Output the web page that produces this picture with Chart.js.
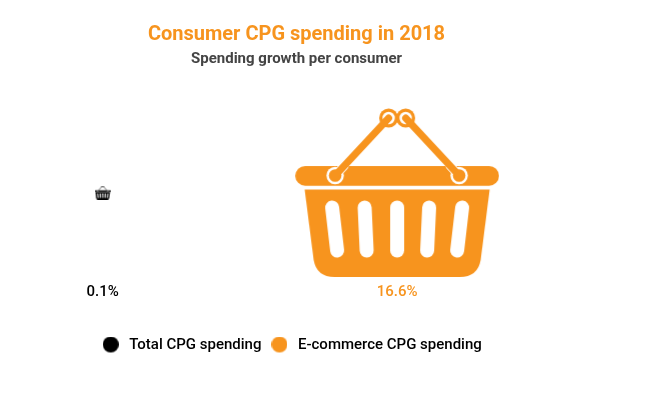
<!DOCTYPE html>
<html>
<head>
<meta charset="utf-8">
<title>Consumer CPG spending in 2018</title>
<script src="https://cdn.jsdelivr.net/npm/chart.js@4/dist/chart.umd.min.js"></script>
<style>
    html, body { margin: 0; padding: 0; background: #fff; }
    canvas { display: block; }
</style>
</head>
<body>
<canvas id="grafico" width="654" height="394"></canvas>
<script>

const categorias = ['Total CPG spending', 'E-commerce CPG spending'];
const valores = [0.1, 16.6];
const etiquetas = ['0.1%', '16.6%'];
const colores = ['#000000', '#f7941e'];

const titulo = 'Consumer CPG spending in 2018';
const subtitulo = 'Spending growth per consumer';

// the icon area follows the value, 50px of width per sqrt(value)
const anchoPorRaiz = 50;
const anchoBase = 204;
const altoBase = 169;

function crearCesta(valor, color) {
    let escala = anchoPorRaiz * Math.sqrt(valor) / anchoBase;
    let lienzo = document.createElement('canvas');
    lienzo.width = Math.ceil(anchoBase * escala);
    lienzo.height = Math.ceil(altoBase * escala);

    let ctx = lienzo.getContext('2d');
    ctx.scale(lienzo.width / anchoBase, lienzo.height / altoBase);
    ctx.translate(-15.5, -8);
    ctx.lineCap = 'round';

    // body
    ctx.fillStyle = color;
    ctx.beginPath();
    ctx.moveTo(25, 89.5);
    ctx.lineTo(210, 89.5);
    ctx.lineTo(201, 160);
    ctx.quadraticCurveTo(198, 177, 180, 177);
    ctx.lineTo(55, 177);
    ctx.quadraticCurveTo(37, 177, 34, 160);
    ctx.closePath();
    ctx.fill();

    // slots
    ctx.strokeStyle = '#fff';
    ctx.lineWidth = 14;
    [[52.5, 57.5], [85, 87], [117.5, 117.5], [149.5, 147.5], [182.5, 177.5]].forEach(function (r) {
        ctx.beginPath();
        ctx.moveTo(r[0], 107.5);
        ctx.lineTo(r[1], 150.5);
        ctx.stroke();
    });

    // rim
    ctx.fillStyle = color;
    ctx.beginPath();
    ctx.roundRect(15.7, 66, 203.6, 19.7, 9.8);
    ctx.fill();

    // handles with their rings
    [[55.5, 75.5, 109, 18], [179.5, 75.5, 126, 18]].forEach(function (h) {
        ctx.fillStyle = '#fff';
        ctx.beginPath();
        ctx.arc(h[0], h[1], 8.7, 0, Math.PI * 2);
        ctx.fill();

        // thin white edge where the handle crosses the rim
        ctx.strokeStyle = '#fff';
        ctx.lineWidth = 9;
        ctx.beginPath();
        ctx.moveTo(h[0], h[1]);
        ctx.lineTo(h[0] + (h[2] - h[0]) * 0.17, h[1] + (h[3] - h[1]) * 0.17);
        ctx.stroke();

        ctx.fillStyle = color;
        ctx.beginPath();
        ctx.arc(h[0], h[1], 6.3, 0, Math.PI * 2);
        ctx.fill();

        ctx.fillStyle = color;
        ctx.beginPath();
        ctx.arc(h[2], h[3], 9.5, 0, Math.PI * 2);
        ctx.fill();
        ctx.fillStyle = '#fff';
        ctx.beginPath();
        ctx.arc(h[2], h[3], 6.2, 0, Math.PI * 2);
        ctx.fill();

        ctx.strokeStyle = color;
        ctx.lineWidth = 7;
        ctx.beginPath();
        ctx.moveTo(h[0], h[1]);
        ctx.lineTo(h[2], h[3]);
        ctx.stroke();
    });

    return lienzo;
}

// taller than the circle so it lands one pixel above the text centre line
function crearCirculo(color) {
    let lienzo = document.createElement('canvas');
    lienzo.width = 16;
    lienzo.height = 18;
    let ctx = lienzo.getContext('2d');
    ctx.fillStyle = color;
    ctx.beginPath();
    ctx.arc(8, 8, 8, 0, Math.PI * 2);
    ctx.fill();
    return lienzo;
}

// the legend sits a little left of the title centre
const moverLeyenda = {
    id: 'moverLeyenda',
    afterLayout: function (chart) {
        chart.legend.right -= 11.5;
    }
};

const ctxGrafico = document.getElementById('grafico');
const miGrafico = new Chart(ctxGrafico, {
    type: 'scatter',
    data: {
        datasets: categorias.map(function (nombre, i) {
            return {
                label: nombre,
                data: [{ x: i, y: 0 }],
                pointStyle: crearCesta(valores[i], colores[i]),
                clip: false
            };
        })
    },
    plugins: [moverLeyenda],
    options: {
        responsive: false,
        animation: false,
        layout: { padding: { right: 61, bottom: 31, top: 23 } },
        scales: {
            x: {
                type: 'linear',
                bounds: 'data',
                min: -0.3317,
                max: 1.665,
                grid: { display: false },
                border: { display: false },
                afterBuildTicks: function (eje) {
                    eje.ticks = etiquetas.map(function (t, i) { return { value: i }; });
                },
                afterFit: function (eje) {
                    eje.height += 30;
                },
                ticks: {
                    autoSkip: false,
                    maxRotation: 0,
                    padding: 0,
                    callback: function (valor) { return etiquetas[valor]; },
                    color: function (c) { return colores[c.index]; },
                    font: { family: 'Roboto', size: 15, weight: '500' }
                }
            },
            y: { display: false, min: -1, max: 1.3047 }
        },
        plugins: {
            title: {
                display: true,
                text: titulo,
                color: colores[1],
                font: { family: 'Roboto', size: 20, weight: 'bold' },
                padding: { top: 0, bottom: 3 }
            },
            subtitle: {
                display: true,
                text: subtitulo,
                color: '#444444',
                font: { family: 'Roboto', size: 15, weight: 'bold' },
                padding: { top: 0, bottom: 17 }
            },
            legend: {
                position: 'bottom',
                labels: {
                    usePointStyle: true,
                    pointStyleWidth: 22,
                    padding: 7,
                    color: '#000000',
                    font: { family: 'Roboto', size: 15, weight: '500' },
                    generateLabels: function () {
                        return categorias.map(function (nombre, i) {
                            return {
                                text: nombre,
                                pointStyle: crearCirculo(colores[i]),
                                fontColor: '#000000',
                                lineWidth: 0,
                                datasetIndex: i
                            };
                        });
                    }
                }
            },
            tooltip: { enabled: false }
        }
    }
});

</script>
</body>
</html>
